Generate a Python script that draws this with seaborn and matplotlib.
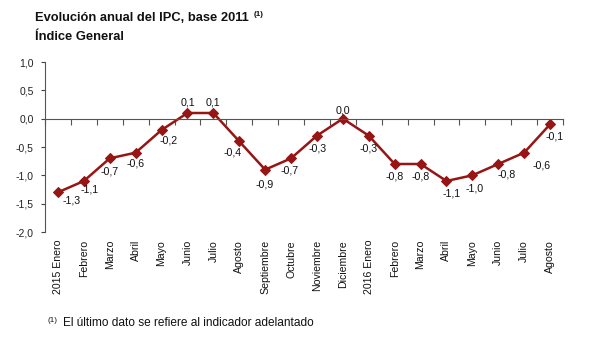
import matplotlib
matplotlib.use("Agg")
import matplotlib.pyplot as plt
import seaborn as sns
import pandas as pd
import numpy as np

months = ["2015 Enero", "Febrero", "Marzo", "Abril", "Mayo", "Junio", "Julio",
          "Agosto", "Septiembre", "Octubre", "Noviembre", "Diciembre",
          "2016 Enero", "Febrero", "Marzo", "Abril", "Mayo", "Junio", "Julio", "Agosto"]
values = [-1.3, -1.1, -0.7, -0.6, -0.2, 0.1, 0.1, -0.4, -0.9, -0.7, -0.3, 0.0,
          -0.3, -0.8, -0.8, -1.1, -1.0, -0.8, -0.6, -0.1]
yticks = [1.0, 0.5, 0.0, -0.5, -1.0, -1.5, -2.0]

# label offsets (pixels) relative to each point
label_dx = [14, 6, 0, 0, 7, 0, 0, -7, 0, -1, 1, 0, 0, 0, 0, 5, 2, 8, 17, 5]
label_dy = [-8, -8, -13, -11, -10, 11, 11, -11, -15, -12, -13, 8, -13, -12, -12, -12, -13, -10, -13, -12]

sns.set_theme(style="white")
plt.rcParams['font.family'] = ['Liberation Sans', 'DejaVu Sans']

df = pd.DataFrame({"idx": np.arange(len(values)), "valor": values})

fig = plt.figure(figsize=(6.06, 3.39), dpi=100)
ax = fig.add_axes([45/606, 1-232/339, 518/606, 170/339])

color = "#961515"
sns.lineplot(data=df, x="idx", y="valor", ax=ax, color=color, linewidth=1.8,
             marker="D", markersize=4.8, markeredgecolor=color, markerfacecolor=color)

ax.set_xlim(-0.5, len(values) - 0.5)
ax.set_ylim(-2.0, 1.0)
ax.set_yticks(yticks)
ax.set_yticklabels([f"{v:.1f}".replace(".", ",") for v in yticks], fontsize=7.5, color="#222222")
ax.tick_params(axis="y", direction="out", length=3, width=0.8, color="#444444", pad=5, left=True)
ax.set_xlabel("")
ax.set_ylabel("")

for s in ["top", "right"]:
    ax.spines[s].set_visible(False)
ax.spines["left"].set_color("#555555")
ax.spines["left"].set_linewidth(0.8)
ax.spines["bottom"].set_position(("data", 0))
ax.spines["bottom"].set_color("#555555")
ax.spines["bottom"].set_linewidth(0.8)

ax.set_xticks(np.arange(len(values)))
ax.set_xticklabels([])
ax.tick_params(axis="x", which="major", length=0, bottom=False)
ax.set_xticks(np.arange(len(values) + 1) - 0.5, minor=True)
ax.tick_params(axis="x", which="minor", direction="out", length=4, width=0.8,
               color="#555555", bottom=True)

xlab_tr = ax.transData + matplotlib.transforms.ScaledTranslation(0, -8/100, fig.dpi_scale_trans)
for i, m in enumerate(months):
    ax.text(i, -2.0, m, rotation=90, ha="center", va="top", fontsize=7.6,
            color="#111111", transform=xlab_tr)

for i, v in enumerate(values):
    ax.annotate(f"{v:.1f}".replace(".", ","), (i, v), xytext=(label_dx[i], label_dy[i]),
                textcoords="offset pixels", ha="center", va="center", fontsize=7.7,
                color="#111111")

fig.text(35/606, 1-18/339, "Evolución anual del IPC, base 2011", fontsize=9.3, fontweight="bold",
         ha="left", va="center", color="#111111")
fig.text(254/606, 1-15/339, "(1)", fontsize=5.8, fontweight="bold", ha="left", va="center", color="#111111")
fig.text(35/606, 1-37/339, "Índice General", fontsize=9.3, fontweight="bold",
         ha="left", va="center", color="#111111")

fig.text(48/606, 1-320/339, "(1)", fontsize=5.8, ha="left", va="center", color="#111111")
fig.text(63/606, 1-323/339, "El último dato se refiere al indicador adelantado", fontsize=8.6,
         ha="left", va="center", color="#111111")

fig.savefig("out.png", dpi=100, facecolor="white")
